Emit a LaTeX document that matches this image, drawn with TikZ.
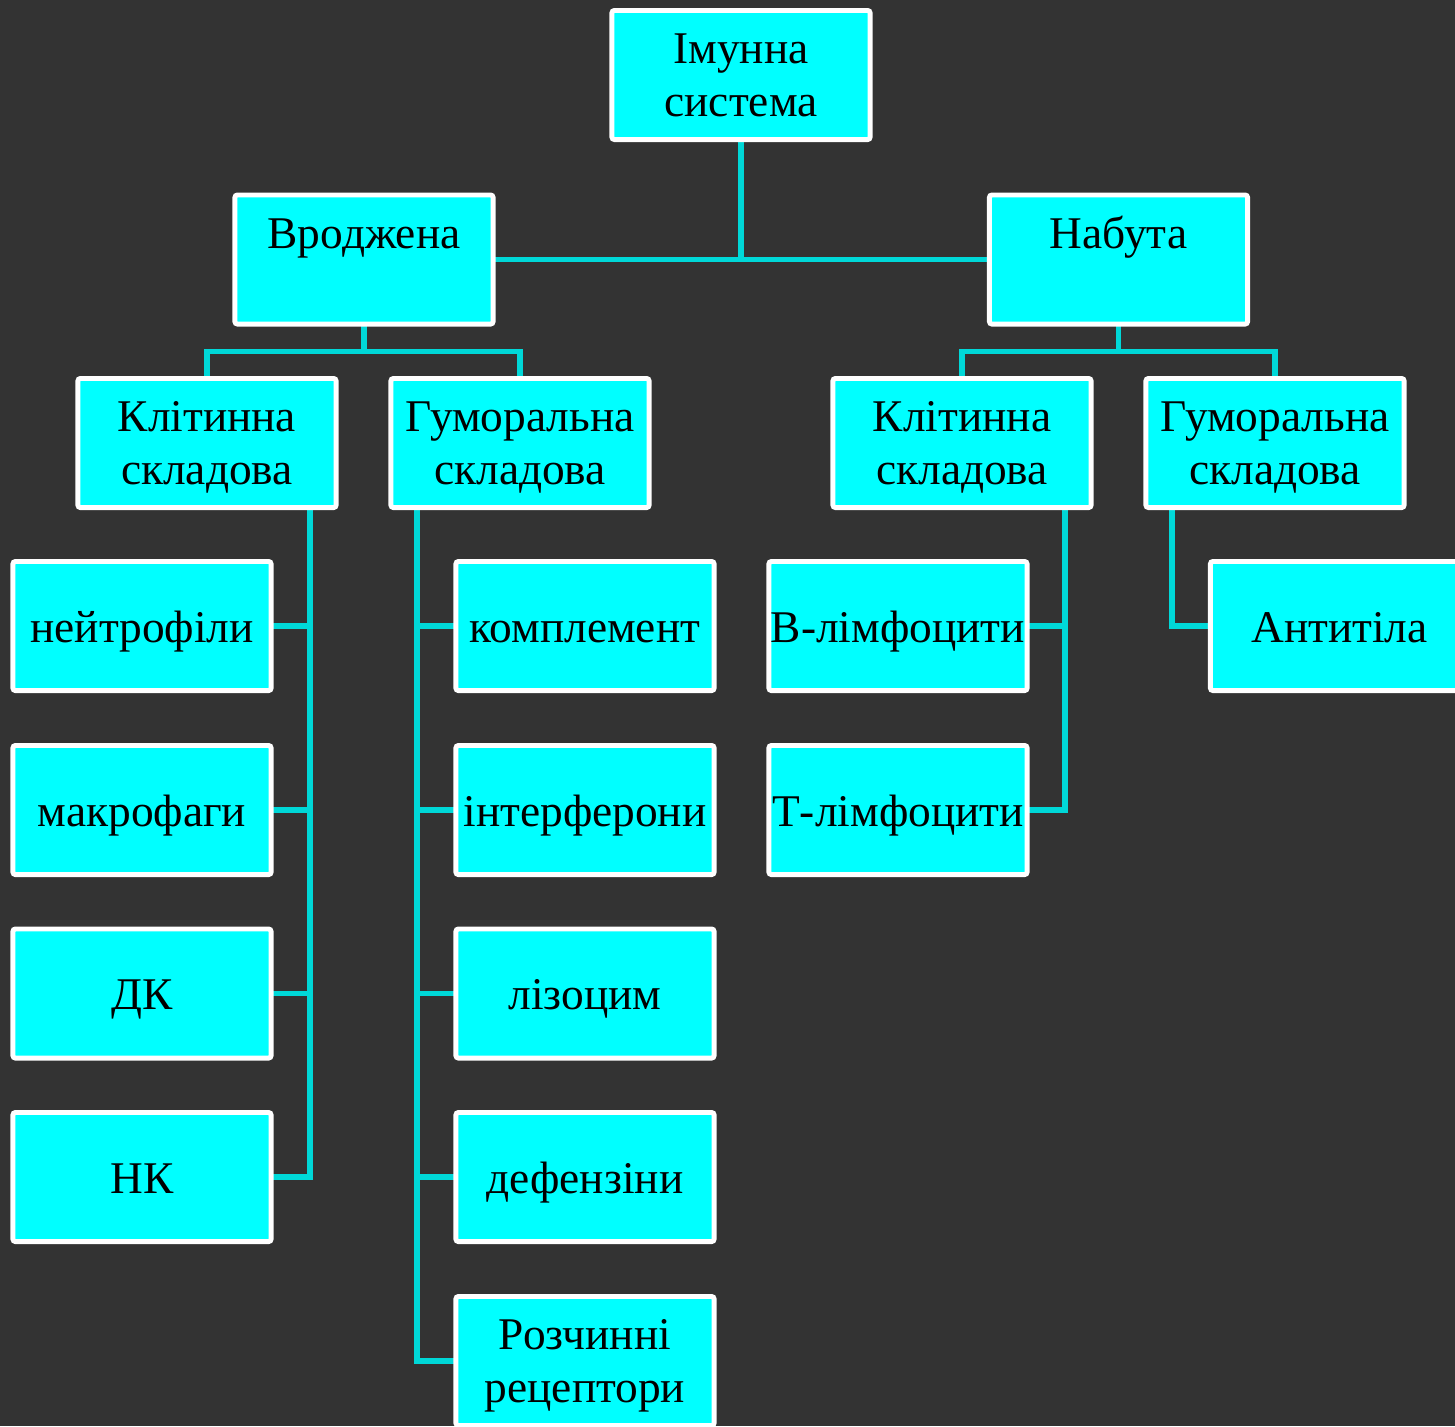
\documentclass[tikz,border=0pt]{standalone}
\usepackage{fontspec}
\setmainfont{Liberation Serif}
\usetikzlibrary{calc,backgrounds}

\definecolor{bgdark}{HTML}{333333}
\definecolor{boxcyan}{HTML}{00FFFF}
\definecolor{linkcyan}{HTML}{00D8D8}

% line box of the text, as in the slides
\newcommand{\lnstrut}{\rule[-2.8pt]{0pt}{14.3pt}}

\begin{document}
\begin{tikzpicture}[x=0.01cm, y=-0.01cm,
    box/.style={draw=white, fill=boxcyan, line width=1.4pt, rounded corners=0.7pt,
        minimum width=2.58cm, minimum height=1.29cm, inner sep=0pt, outer sep=0pt,
        align=center, font=\fontsize{12.9}{15.1}\selectfont},
    leaf/.style={box, text height=12pt, text depth=2.9pt},
    link/.style={draw=linkcyan, line width=1.5pt}]

    \path[use as bounding box] (0,0) rectangle (1455,1426);

    % top levels
    \node[box] (root) at (741,75) {\lnstrut Імунна\\система\lnstrut};
    \node[box] (vrod) at (364,259.5) {\lnstrut Вроджена\\\lnstrut};
    \node[box] (nab) at (1118.5,259.5) {\lnstrut Набута\\\lnstrut};

    \node[box] (kl1) at (207,443) {\lnstrut Клітинна\\складова\lnstrut};
    \node[box] (gum1) at (520,443) {\lnstrut Гуморальна\\складова\lnstrut};
    \node[box] (kl2) at (962,443) {\lnstrut Клітинна\\складова\lnstrut};
    \node[box] (gum2) at (1275,443) {\lnstrut Гуморальна\\складова\lnstrut};

    % leaves
    \foreach \name/\txt/\yy in {neut/нейтрофіли/626, macr/макрофаги/810,
            dk/ДК/993.5, nk/НК/1177}
        \node[leaf] (\name) at (142,\yy) {\txt};
    \foreach \name/\txt/\yy in {compl/комплемент/626, interf/інтерферони/810,
            lys/лізоцим/993.5, def/дефензіни/1177}
        \node[leaf] (\name) at (585,\yy) {\txt};
    \node[box] (recep) at (585,1361) {\lnstrut Розчинні\\рецептори\lnstrut};
    \node[leaf] (blym) at (898,626) {В-лімфоцити};
    \node[leaf] (tlym) at (898,810) {Т-лімфоцити};
    \node[leaf] (anti) at (1339.5,626) {Антитіла};

    \begin{pgfonlayer}{background}
        \fill[bgdark] (0,0) rectangle (1455,1426);

        % root to the two branches
        \draw[link] (vrod.east) -- (nab.west);
        \draw[link] (root.south) -- (root.south |- vrod.east);

        % branch forks
        \coordinate (vj) at ($(vrod.south)!0.5!(vrod.south |- kl1.north)$);
        \draw[link] (vrod.south) -- (vj);
        \draw[link] (kl1.north) |- (vj) -| (gum1.north);
        \coordinate (nj) at ($(nab.south)!0.5!(nab.south |- kl2.north)$);
        \draw[link] (nab.south) -- (nj);
        \draw[link] (kl2.north) |- (nj) -| (gum2.north);

        % trunks
        \coordinate (t1) at ($(kl1.south east)+(-26,0)$);
        \draw[link] (t1) |- (nk.east);
        \foreach \n in {neut,macr,dk}
            \draw[link] (\n.east) -- (\n.east -| t1);

        \coordinate (t2) at ($(gum1.south west)+(26,0)$);
        \draw[link] (t2) |- (recep.west);
        \foreach \n in {compl,interf,lys,def}
            \draw[link] (\n.west) -- (\n.west -| t2);

        \coordinate (t3) at ($(kl2.south east)+(-26,0)$);
        \draw[link] (t3) |- (tlym.east);
        \draw[link] (blym.east) -- (blym.east -| t3);

        \coordinate (t4) at ($(gum2.south west)+(26,0)$);
        \draw[link] (t4) |- (anti.west);
    \end{pgfonlayer}
\end{tikzpicture}
\end{document}
